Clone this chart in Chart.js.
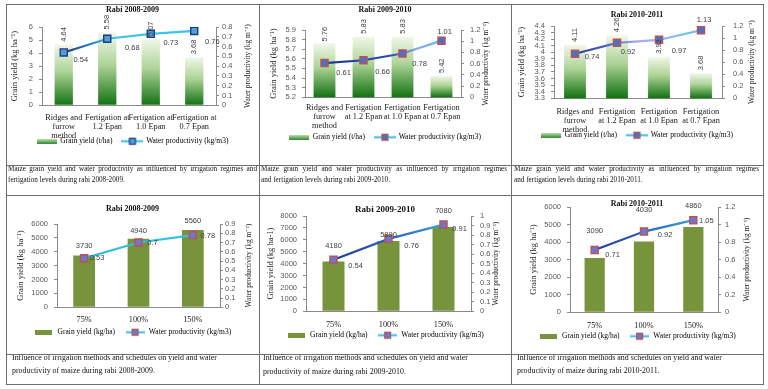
<!DOCTYPE html>
<html>
<head>
<meta charset="utf-8">
<script src="https://cdn.jsdelivr.net/npm/chart.js@4.4.1/dist/chart.umd.min.js"></script>
<style>
html, body { margin: 0; padding: 0; background: #fff; }
#page { position: relative; width: 768px; height: 389px; overflow: hidden; background: #fff; }
#page canvas { position: absolute; }
.ln { position: absolute; background: #6e6e6e; z-index: 5; }
.cap { position: absolute; font-family: 'Liberation Serif', serif; color: #111; -webkit-font-smoothing: antialiased; will-change: transform; transform: translateZ(0); z-index: 4; }
.cap div { overflow: hidden; height: inherit; }
.j { text-align: justify; text-align-last: justify; }
</style>
</head>
<body>
<div id="page">
  <canvas id="c1"></canvas>
  <canvas id="c2"></canvas>
  <canvas id="c3"></canvas>
  <canvas id="c4"></canvas>
  <canvas id="c5"></canvas>
  <canvas id="c6"></canvas>

  <!-- table rules -->
  <div class="ln" style="left:6px;top:4px;width:758px;height:1px"></div>
  <div class="ln" style="left:6px;top:165px;width:758px;height:1px"></div>
  <div class="ln" style="left:6px;top:195px;width:758px;height:1px"></div>
  <div class="ln" style="left:6px;top:354px;width:758px;height:1px"></div>
  <div class="ln" style="left:6px;top:384px;width:758px;height:1px"></div>
  <div class="ln" style="left:6px;top:4px;width:1px;height:381px"></div>
  <div class="ln" style="left:259px;top:4px;width:1px;height:381px"></div>
  <div class="ln" style="left:511px;top:4px;width:1px;height:381px"></div>
  <div class="ln" style="left:763px;top:4px;width:1px;height:381px"></div>

  <div class="cap" style="left:8px;top:163.5px;width:249px;font-size:7.2px;line-height:10.5px;background:#fff;height:29px">
    <div class="j" style="height:10.5px">Maize grain yield and water productivity as influenced by irrigation regimes and</div>
    <div style="height:10.5px">fertigation levels during rabi 2008-2009.</div>
  </div>
  <div class="cap" style="left:261px;top:163.5px;width:246px;font-size:7.2px;line-height:10.5px;background:#fff;height:29px">
    <div class="j" style="height:10.5px">Maize grain yield and water productivity as influenced by irrigation regimes</div>
    <div style="height:10.5px">and fertigation levels during rabi 2009-2010.</div>
  </div>
  <div class="cap" style="left:514px;top:163.5px;width:245px;font-size:7.2px;line-height:10.5px;background:#fff;height:29px">
    <div class="j" style="height:10.5px">Maize grain yield and water productivity as influenced by irrigation regimes</div>
    <div style="height:10.5px">and fertigation levels during rabi 2010-2011.</div>
  </div>
  <div class="cap" style="left:12px;top:350.5px;width:245px;font-size:7.9px;line-height:13px">
    <div>Influence of irrigation methods and schedules on yield and water</div>
    <div>productivity of maize during rabi 2008-2009.</div>
  </div>
  <div class="cap" style="left:263px;top:351px;width:245px;font-size:7.9px;line-height:13.5px">
    <div>Influence of irrigation methods and schedules on yield and water</div>
    <div>productivity of maize during rabi 2009-2010.</div>
  </div>
  <div class="cap" style="left:517px;top:350.5px;width:245px;font-size:7.9px;line-height:13px">
    <div>Influence of irrigation methods and schedules on yield and water</div>
    <div>productivity of maize during rabi 2010-2011.</div>
  </div>
</div>

<script>
// categories
const methodsA = [['Ridges and', 'furrow', 'method'], ['Fertigation at', '1.2 Epan'], ['Fertigation at', '1.0 Epan'], ['Fertigation at', '0.7 Epan']]
const methodsB = [['Ridges and', 'furrow', 'method'], ['Fertigation', 'at 1.2 Epan'], ['Fertigation', 'at 1.0 Epan'], ['Fertigation', 'at 0.7 Epan']]
const schedules = ['75%', '100%', '150%']

// grain yield (t/ha) and water productivity (kg/m3), fertigation trials
const yield0809 = [4.64, 5.58, 5.07, 3.68]
const wp0809 = [0.54, 0.68, 0.73, 0.76]
const yield0910 = [5.76, 5.83, 5.83, 5.42]
const wp0910 = [0.61, 0.66, 0.78, 1.01]
const yield1011 = [4.11, 4.26, 3.93, 3.68]
const wp1011 = [0.74, 0.92, 0.97, 1.13]

// grain yield (kg/ha) and water productivity, irrigation schedules
const kg0809 = [3730, 4940, 5560]
const wpS0809 = [0.53, 0.7, 0.78]
const kg0910 = [4180, 5890, 7080]
const wpS0910 = [0.54, 0.76, 0.91]
const kg1011 = [3090, 4030, 4860]
const wpS1011 = [0.71, 0.92, 1.05]

// axis ranges [min, max, step]
const left1 = [0, 6, 1], right1 = [0, 0.8, 0.1]
const left2 = [5.2, 5.9, 0.1], right2 = [0, 1.2, 0.2]
const left3 = [3.3, 4.4, 0.1], right3 = [0, 1.2, 0.2]
const left4 = [0, 6000, 1000], right4 = [0, 0.9, 0.1]
const left5 = [0, 8000, 1000], right5 = [0, 1, 0.1]
const left6 = [0, 6000, 1000], right6 = [0, 1.2, 0.2]

Chart.defaults.font.family = "'Liberation Serif', serif"

const SERIF = "'Liberation Serif', serif"
const SANS = "'Liberation Sans', sans-serif"
const AXIS = '#8a8a8a'
const EXTRA = 26   // room below the axis so the tick labels are not clipped

//pequeno canvas para a legenda
const icon = function (w, h, draw) {
    const c = document.createElement('canvas')
    c.width = w
    c.height = h
    draw(c.getContext('2d'), w, h)
    return c
}

const fadeIcon = icon(20, 5, (g, w, h) => {
    const gr = g.createLinearGradient(0, 0, 0, h)
    gr.addColorStop(0, '#c9e2b5')
    gr.addColorStop(1, '#2f8a2f')
    g.fillStyle = gr
    g.fillRect(0, 0, w, h)
})
const oliveIcon = icon(17, 5, (g, w, h) => {
    g.fillStyle = '#77933c'
    g.fillRect(0, 0, w, h)
})
const markIcon = (w, border, fill) => icon(w, 9, (g) => {
    g.strokeStyle = '#35bfe0'
    g.lineWidth = 2
    g.beginPath(); g.moveTo(0, 4.5); g.lineTo(w, 4.5); g.stroke()
    g.fillStyle = fill
    g.fillRect(w / 2 - 3, 1.5, 6, 6)
    g.strokeStyle = border
    g.lineWidth = 1.2
    g.strokeRect(w / 2 - 3, 1.5, 6, 6)
})

//degrade verde de cada barra
const greenFade = function (context) {
    const chart = context.chart
    const area = chart.chartArea
    if (!area || context.type !== 'data') return '#6aa84f'
    const top = chart.scales.y.getPixelForValue(context.raw)
    const gr = chart.ctx.createLinearGradient(0, top, 0, area.bottom)
    gr.addColorStop(0, '#f2f7ea')
    gr.addColorStop(0.45, '#acd396')
    gr.addColorStop(1, '#127212')
    return gr
}

const lineFade = stops => function (context) {
    const chart = context.chart
    const a = chart.chartArea
    if (!a) return stops[0][1]
    const gr = chart.ctx.createLinearGradient(a.left, 0, a.right, 0)
    stops.forEach(s => gr.addColorStop(s[0], s[1]))
    return gr
}

const fmt = v => String(Math.round(v * 100) / 100)

//rotulos de valores e titulo do eixo direito
const extras = g => ({
    id: 'extras',
    afterLayout(chart) {
        // legenda sobe para perto do eixo, como no Excel
        const lg = chart.legend
        lg.top -= EXTRA
        lg.bottom -= EXTRA
    },
    afterDatasetsDraw(chart) {
        const ctx = chart.ctx
        const bars = chart.getDatasetMeta(0).data
        const pts = chart.getDatasetMeta(1).data
        const bv = chart.data.datasets[0].data
        const lv = chart.data.datasets[1].data
        ctx.save()
        ctx.font = '7.5px ' + SANS
        ctx.fillStyle = '#404040'
        ctx.textBaseline = 'middle'
        bars.forEach((b, i) => {
            if (g.rotate) {
                ctx.save()
                ctx.translate(b.x, b.y - g.barGap[i])
                ctx.rotate(-Math.PI / 2)
                ctx.textAlign = 'left'
                ctx.fillText(String(bv[i]), 0, 0)
                ctx.restore()
            } else {
                ctx.textAlign = 'center'
                ctx.fillText(String(bv[i]), b.x, b.y - g.barGap[i])
            }
        })
        pts.forEach((p, i) => {
            ctx.textAlign = 'center'
            ctx.fillText(String(lv[i]), p.x + g.lineOff[i][0], p.y + g.lineOff[i][1])
        })
        const a = chart.chartArea
        ctx.translate(g.y2TitleX, (a.top + a.bottom) / 2)
        ctx.rotate(-Math.PI / 2)
        ctx.font = '7.5px ' + SERIF
        ctx.fillStyle = '#222'
        ctx.textAlign = 'center'
        ctx.fillText(g.y2Title, 0, 0)
        ctx.restore()
    }
})

const build = function (id, g, d) {
    const cv = document.getElementById(id)
    const lf = 7.5, lp = 10
    const legendTop = g.legendY - lp - lf / 2
    const H = Math.round(legendTop + lf + lp + 10) + EXTRA
    cv.width = g.w
    cv.height = H
    cv.style.left = g.x + 'px'
    cv.style.top = g.y + 'px'
    const tLH = g.titleSize + 2
    const tTop = g.titleY - tLH / 2
    const icons = [d.barIcon, d.lineIcon]

    new Chart(cv, {
        type: 'bar',
        data: {
            labels: d.labels,
            datasets: [{
                type: 'bar',
                label: d.barLabel,
                data: d.bars,
                backgroundColor: d.barFill,
                borderWidth: 0,
                barPercentage: g.barPct,
                categoryPercentage: 1,
                yAxisID: 'y',
                order: 1
            }, {
                type: 'line',
                label: 'Water productivity (kg/m3)',
                data: d.line,
                yAxisID: 'y2',
                order: 0,
                borderColor: lineFade(g.lineStops),
                borderWidth: 2.2,
                pointStyle: 'rect',
                pointRadius: 5,
                pointBorderWidth: 1.4,
                pointBorderColor: g.mark[0],
                pointBackgroundColor: g.mark[1],
                tension: 0,
                fill: false
            }]
        },
        options: {
            responsive: false,
            animation: false,
            devicePixelRatio: 1,
            layout: { padding: 0, autoPadding: false },
            plugins: {
                tooltip: { enabled: false },
                title: {
                    display: true,
                    text: d.title,
                    color: '#111',
                    font: { family: SERIF, size: g.titleSize, weight: 'bold', lineHeight: tLH + 'px' },
                    padding: { top: tTop, bottom: g.top - tTop - tLH }
                },
                legend: {
                    position: 'bottom',
                    labels: {
                        usePointStyle: true,
                        pointStyleWidth: 20,
                        padding: lp,
                        color: '#222',
                        font: { family: SERIF, size: lf },
                        generateLabels: chart => chart.data.datasets.map((ds, i) => ({
                            text: ds.label,
                            pointStyle: icons[i],
                            datasetIndex: i,
                            hidden: false,
                            lineWidth: 0,
                            fillStyle: 'rgba(0,0,0,0)',
                            strokeStyle: 'rgba(0,0,0,0)'
                        }))
                    }
                }
            },
            scales: {
                x: {
                    grid: { display: false, drawTicks: false },
                    border: { display: true, color: AXIS },
                    ticks: {
                        color: '#222',
                        autoSkip: false,
                        maxRotation: 0,
                        minRotation: 0,
                        padding: g.xPad,
                        font: { family: SERIF, size: 8.3, lineHeight: 1.1 }
                    },
                    afterFit: s => { s.height = legendTop - g.bottom + EXTRA }
                },
                y: {
                    position: 'left',
                    min: d.left[0],
                    max: d.left[1],
                    grid: { drawOnChartArea: false, tickLength: 3, color: AXIS },
                    border: { display: true, color: AXIS },
                    ticks: {
                        stepSize: d.left[2],
                        autoSkip: false,
                        padding: 6,
                        color: '#595959',
                        font: { family: SANS, size: 7.5 },
                        callback: fmt
                    },
                    title: {
                        display: true,
                        text: d.yTitle,
                        color: '#222',
                        font: { family: SERIF, size: 8.5, lineHeight: '10px' },
                        padding: { top: g.yTitleX - 5, bottom: 0 }
                    },
                    afterFit: s => { s.width = g.left }
                },
                y2: {
                    position: 'right',
                    min: d.right[0],
                    max: d.right[1],
                    grid: { drawOnChartArea: false, tickLength: 3, color: AXIS },
                    border: { display: true, color: AXIS },
                    ticks: {
                        stepSize: d.right[2],
                        autoSkip: false,
                        padding: g.rPad,
                        color: '#595959',
                        font: { family: SANS, size: 7.5 },
                        callback: fmt
                    },
                    afterFit: s => { s.width = g.w - g.right }
                }
            }
        },
        plugins: [extras(g)]
    })
}

const WP_TITLE = 'Water productivity (kg m\u207B\u00B3)'
const GY_TITLE = 'Grain yield (kg ha\u207B\u00B9)'

build('c1', {
    x: 6, y: 4, w: 253, titleY: 6, titleSize: 8, top: 23, bottom: 101, left: 36, right: 210,
    legendY: 137, xPad: 8, yTitleX: 9, y2TitleX: 242, y2Title: WP_TITLE, rPad: 3, barPct: 0.42,
    rotate: true, barGap: [3, 3, 3, 3], lineOff: [[17, 8], [25, 9], [20, 9], [18, 11]],
    lineStops: [[0, '#1b2c86'], [0.15, '#1f3a90'], [0.33, '#2f9fd8'], [0.4, '#3ac6e8'], [1, '#3ac6e8']],
    mark: ['#1f3a80', '#4f9fd8']
}, {
    title: 'Rabi 2008-2009', labels: methodsA, bars: yield0809, line: wp0809,
    left: left1, right: right1, yTitle: GY_TITLE, barLabel: 'Grain yield (t/ha)',
    barFill: greenFade, barIcon: fadeIcon, lineIcon: markIcon(22, '#1f3a80', '#4f9fd8')
})

build('c2', {
    x: 259, y: 4, w: 252, titleY: 6, titleSize: 8, top: 26, bottom: 93, left: 46, right: 202,
    legendY: 133, xPad: 6, yTitleX: 15, y2TitleX: 227, y2Title: WP_TITLE, rPad: 6, barPct: 0.56,
    rotate: true, barGap: [2, 3, 3, 3], lineOff: [[19, 10], [19, 12], [17, 10], [3, -9]],
    lineStops: [[0, '#1b2c86'], [0.55, '#2b4db0'], [0.72, '#8aaee6'], [1, '#3ac6e8']],
    mark: ['#c0504d', '#4a72c4']
}, {
    title: 'Rabi 2009-2010', labels: methodsB, bars: yield0910, line: wp0910,
    left: left2, right: right2, yTitle: GY_TITLE, barLabel: 'Grain yield (t/ha)',
    barFill: greenFade, barIcon: fadeIcon, lineIcon: markIcon(22, '#c0504d', '#4a72c4')
})

build('c3', {
    x: 511, y: 4, w: 252, titleY: 11, titleSize: 8, top: 22, bottom: 94, left: 43, right: 211,
    legendY: 131, xPad: 9, yTitleX: 11, y2TitleX: 241, y2Title: WP_TITLE, rPad: 8, barPct: 0.52,
    rotate: true, barGap: [3, 3, 3, 3], lineOff: [[17, 3], [11, 9], [20, 11], [3, -10]],
    lineStops: [[0, '#1b2c86'], [0.3, '#4a5cc8'], [0.5, '#a6aee8'], [0.7, '#8fbcea'], [1, '#3ac6e8']],
    mark: ['#c0504d', '#4a72c4']
}, {
    title: 'Rabi 2010-2011', labels: methodsB, bars: yield1011, line: wp1011,
    left: left3, right: right3, yTitle: GY_TITLE, barLabel: 'Grain yield (t/ha)',
    barFill: greenFade, barIcon: fadeIcon, lineIcon: markIcon(22, '#c0504d', '#4a72c4')
})

build('c4', {
    x: 6, y: 196, w: 253, titleY: 13, titleSize: 8, top: 28, bottom: 111, left: 51, right: 214,
    legendY: 136, xPad: 8, yTitleX: 15, y2TitleX: 243, y2Title: WP_TITLE, rPad: 2, barPct: 0.4,
    rotate: false, barGap: [10, 8, 9], lineOff: [[13, 0], [14, 0], [15, 1]],
    lineStops: [[0, '#2fb6da'], [1, '#33c4e4']], mark: ['#c0504d', '#6a78d0']
}, {
    title: 'Rabi 2008-2009', labels: schedules, bars: kg0809, line: wpS0809,
    left: left4, right: right4, yTitle: GY_TITLE, barLabel: 'Grain yield (kg/ha)',
    barFill: '#77933c', barIcon: oliveIcon, lineIcon: markIcon(19, '#c0504d', '#6a78d0')
})

build('c5', {
    x: 259, y: 196, w: 252, titleY: 14, titleSize: 9, top: 20, bottom: 115, left: 47, right: 212,
    legendY: 139, xPad: 9, yTitleX: 12, y2TitleX: 237, y2Title: WP_TITLE, rPad: 6, barPct: 0.4,
    rotate: false, barGap: [16, 6, 16], lineOff: [[22, 6], [23, 7], [16, 4]],
    lineStops: [[0, '#1b2c86'], [0.5, '#2f5fbf'], [1, '#3ac6e8']], mark: ['#c0504d', '#6a78d0']
}, {
    title: 'Rabi 2009-2010', labels: schedules, bars: kg0910, line: wpS0910,
    left: left5, right: right5, yTitle: 'Grain yield (kg ha-1)', barLabel: 'Grain yield (kg/ha)',
    barFill: '#77933c', barIcon: oliveIcon, lineIcon: markIcon(19, '#c0504d', '#6a78d0')
})

build('c6', {
    x: 511, y: 196, w: 252, titleY: 8, titleSize: 8, top: 11, bottom: 116, left: 59, right: 207,
    legendY: 140, xPad: 9, yTitleX: 23, y2TitleX: 236, y2Title: WP_TITLE, rPad: 4, barPct: 0.41,
    rotate: false, barGap: [27, 32, 21], lineOff: [[18, 5], [21, 3], [13, 1]],
    lineStops: [[0, '#1b2c86'], [0.5, '#2f5fbf'], [1, '#3ac6e8']], mark: ['#c0504d', '#6a78d0']
}, {
    title: 'Rabi 2010-2011', labels: schedules, bars: kg1011, line: wpS1011,
    left: left6, right: right6, yTitle: GY_TITLE, barLabel: 'Grain yield (kg/ha)',
    barFill: '#77933c', barIcon: oliveIcon, lineIcon: markIcon(19, '#c0504d', '#6a78d0')
})
</script>
</body>
</html>
